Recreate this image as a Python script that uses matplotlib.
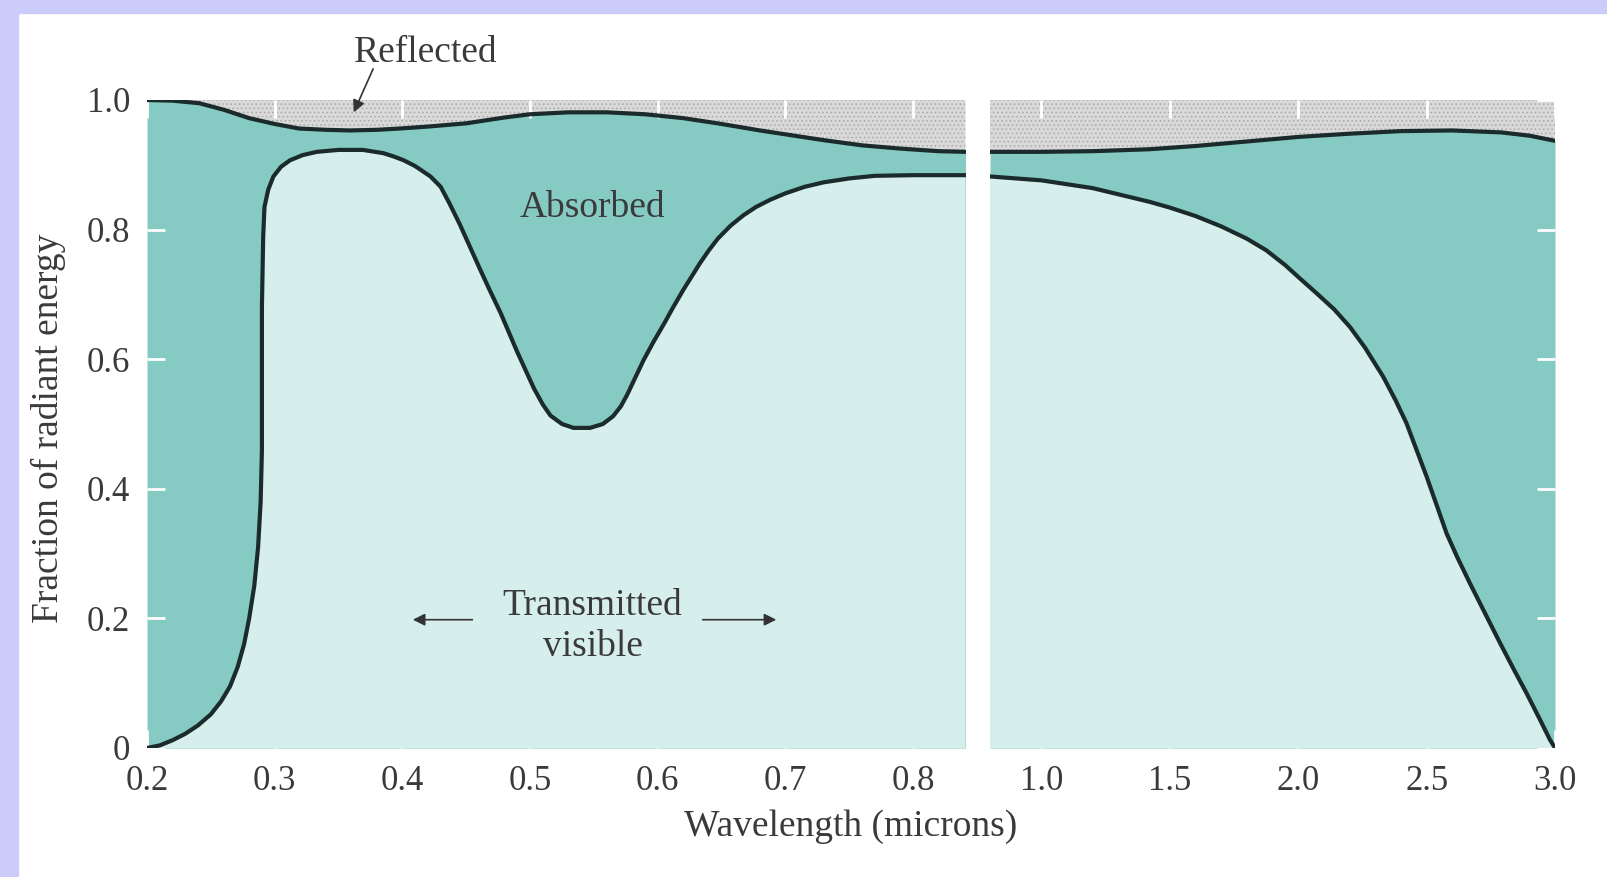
import numpy as np
import matplotlib
matplotlib.use("Agg")
import matplotlib.pyplot as plt
from matplotlib.patches import Rectangle

# Curvas (fracao da energia radiante)
# Painel esquerdo: 0.2 - 0.84 micron
x_top_left = [0.200, 0.220, 0.241, 0.260, 0.280, 0.300, 0.319, 0.340, 0.359, 0.380,
              0.398, 0.420, 0.450, 0.480, 0.500, 0.530, 0.560, 0.590, 0.620, 0.650,
              0.680, 0.700, 0.730, 0.760, 0.790, 0.820, 0.841]
y_top_left = [1.000, 0.999, 0.995, 0.985, 0.972, 0.963, 0.956, 0.954, 0.953, 0.954,
              0.956, 0.959, 0.964, 0.973, 0.978, 0.981, 0.981, 0.978, 0.972, 0.963,
              0.953, 0.947, 0.938, 0.930, 0.925, 0.921, 0.920]

x_low_left = [0.200, 0.210, 0.220, 0.230, 0.240, 0.250, 0.258, 0.265, 0.271, 0.276,
              0.280, 0.284, 0.287, 0.289, 0.290, 0.290, 0.290, 0.291, 0.292, 0.295,
              0.299, 0.305, 0.312, 0.322, 0.333, 0.350, 0.369, 0.385, 0.393, 0.401,
              0.410, 0.422, 0.430, 0.437, 0.445, 0.453, 0.461, 0.469, 0.477, 0.490,
              0.503, 0.510, 0.516, 0.525, 0.534, 0.547, 0.557, 0.565, 0.571, 0.576,
              0.582, 0.589, 0.597, 0.605, 0.612, 0.620, 0.627, 0.633, 0.640, 0.647,
              0.657, 0.667, 0.677, 0.688, 0.700, 0.715, 0.730, 0.750, 0.770, 0.800,
              0.841]
y_low_left = [0.000, 0.004, 0.012, 0.022, 0.035, 0.052, 0.072, 0.095, 0.125, 0.160,
              0.200, 0.250, 0.310, 0.380, 0.460, 0.560, 0.680, 0.790, 0.835, 0.862,
              0.882, 0.897, 0.907, 0.915, 0.920, 0.923, 0.923, 0.918, 0.913, 0.907,
              0.898, 0.882, 0.866, 0.840, 0.808, 0.773, 0.738, 0.704, 0.671, 0.611,
              0.555, 0.530, 0.513, 0.500, 0.494, 0.494, 0.500, 0.512, 0.527, 0.545,
              0.570, 0.599, 0.628, 0.655, 0.680, 0.707, 0.729, 0.748, 0.768, 0.786,
              0.806, 0.822, 0.835, 0.846, 0.856, 0.866, 0.873, 0.879, 0.883, 0.884,
              0.884]

# Painel direito: 0.8 - 3.0 micron
x_top_right = [0.80, 1.00, 1.20, 1.42, 1.60, 1.80, 2.00, 2.20, 2.40, 2.60, 2.79, 2.90, 3.00]
y_top_right = [0.920, 0.920, 0.921, 0.924, 0.929, 0.936, 0.943, 0.948, 0.952, 0.953, 0.950, 0.945, 0.937]

x_low_right = [0.80, 1.00, 1.20, 1.42, 1.50, 1.60, 1.70, 1.80, 1.876, 1.95, 2.00, 2.071,
               2.14, 2.201, 2.26, 2.331, 2.38, 2.422, 2.46, 2.500, 2.54, 2.578, 2.62,
               2.669, 2.73, 2.786, 2.84, 2.890, 2.94, 2.980, 3.00]
y_low_right = [0.882, 0.876, 0.864, 0.843, 0.834, 0.821, 0.805, 0.786, 0.768, 0.745, 0.727, 0.702,
               0.677, 0.650, 0.618, 0.573, 0.536, 0.501, 0.461, 0.419, 0.374, 0.331, 0.294,
               0.254, 0.206, 0.162, 0.121, 0.084, 0.045, 0.013, 0.000]

left_xticks = [0.2, 0.3, 0.4, 0.5, 0.6, 0.7, 0.8]
right_xticks = [1.0, 1.5, 2.0, 2.5, 3.0]
yticks = [0, 0.2, 0.4, 0.6, 0.8, 1.0]
ytick_labels = ["0", "0.2", "0.4", "0.6", "0.8", "1.0"]

# Cores
c_abs = "#86cbc3"
c_trans = "#d6efec"
c_refl = "#d9d9d9"
c_line = "#1b2b2b"
c_text = "#3a3a3a"

plt.rcParams["font.family"] = ["Liberation Serif", "DejaVu Serif"]
plt.rcParams["hatch.color"] = "#a8a8a8"
plt.rcParams["hatch.linewidth"] = 0.6

fig = plt.figure(figsize=(16.07, 8.77), dpi=100)
fig.patch.set_facecolor("white")
# moldura lilas
fig.patches.append(Rectangle((0, 0), 18 / 1607, 1, transform=fig.transFigure,
                             color="#ccccfa", zorder=0))
fig.patches.append(Rectangle((0, 1 - 13 / 877), 1, 13 / 877, transform=fig.transFigure,
                             color="#ccccfa", zorder=0))

ax1 = fig.add_axes([147 / 1607, 1 - 748 / 877, (965.5 - 147) / 1607, 648 / 877])
ax2 = fig.add_axes([990 / 1607, 1 - 748 / 877, (1555 - 990) / 1607, 648 / 877])


def draw_panel(ax, xt, yt, xl, yl):
    ax.fill_between(xt, 0, yt, color=c_abs, lw=0, zorder=1)
    ax.fill(np.r_[xl, xl[-1], xl[0]], np.r_[yl, 0, 0], color=c_trans, lw=0, zorder=2)
    ax.fill_between(xt, yt, 1, facecolor=c_refl, edgecolor="#a8a8a8", hatch="....",
                    lw=0, zorder=1)
    ax.plot(xt, yt, color=c_line, lw=3, solid_capstyle="round", solid_joinstyle="round", zorder=4)
    ax.plot(xl, yl, color=c_line, lw=3, solid_capstyle="round", solid_joinstyle="round", zorder=4)
    ax.set_ylim(0, 1)
    for s in ax.spines.values():
        s.set_visible(False)


draw_panel(ax1, x_top_left, y_top_left, x_low_left, y_low_left)
draw_panel(ax2, x_top_right, y_top_right, x_low_right, y_low_right)
ax1.set_xlim(0.2, 0.841)
ax2.set_xlim(0.8, 3.0)

ax1.set_xticks(left_xticks)
ax1.set_xticklabels([f"{v:.1f}" for v in left_xticks])
ax2.set_xticks(right_xticks)
ax2.set_xticklabels([f"{v:.1f}" for v in right_xticks])
ax1.set_yticks(yticks)
ax1.set_yticklabels(ytick_labels)
ax2.set_yticks(yticks)

for ax in (ax1, ax2):
    ax.tick_params(axis="both", direction="in", color="white", width=2, length=13,
                   labelsize=25, labelcolor=c_text, top=True)
    ax.tick_params(axis="x", pad=12)
    ax.tick_params(axis="y", pad=12)
ax2.tick_params(axis="y", left=False, right=True, labelleft=False)

# Textos
fs = 27
ax1.text(0.418, 1.073, "Reflected", ha="center", va="center", fontsize=fs, color=c_text)
ax1.annotate("", xy=(0.361, 0.977), xytext=(0.378, 1.052), annotation_clip=False,
             arrowprops=dict(arrowstyle="-|>", color="#333333", lw=1.2, mutation_scale=18))
ax1.text(0.549, 0.833, "Absorbed", ha="center", va="center", fontsize=fs, color=c_text)
ax1.text(0.549, 0.188, "Transmitted\nvisible", ha="center", va="center", fontsize=fs,
         color=c_text, linespacing=1.25)
ax1.annotate("", xy=(0.406, 0.198), xytext=(0.457, 0.198),
             arrowprops=dict(arrowstyle="-|>", color="#333333", lw=1.2, mutation_scale=18))
ax1.annotate("", xy=(0.695, 0.198), xytext=(0.633, 0.198),
             arrowprops=dict(arrowstyle="-|>", color="#333333", lw=1.2, mutation_scale=18))

fig.text(48 / 1607, 1 - 428 / 877, "Fraction of radiant energy", rotation=90,
         ha="center", va="center", fontsize=fs, color=c_text)
fig.text(851 / 1607, 1 - 827 / 877, "Wavelength (microns)", ha="center", va="center",
         fontsize=fs, color=c_text)

plt.savefig("out.png", dpi=100)
